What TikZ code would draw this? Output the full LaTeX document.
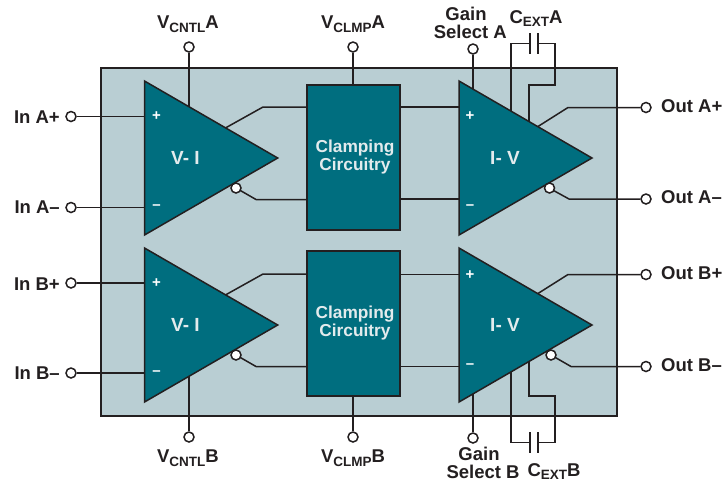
\documentclass[tikz,border=0pt]{standalone}
\usepackage{fontspec}
\setmainfont{Liberation Sans}[BoldFont={Liberation Sans Bold}]
\definecolor{panelgrey}{HTML}{B9CED3}
\definecolor{ampteal}{HTML}{006E7F}
\definecolor{wireblack}{HTML}{231F20}
\newcommand{\lowsub}[1]{\raisebox{-3.5pt}{\fontsize{13.5}{14}\selectfont #1}}
\tikzset{
  wire/.style={draw=wireblack,line width=1.5pt},
  term/.style={circle,draw=wireblack,fill=white,line width=1.5pt,inner sep=0pt,minimum size=10pt},
  amp/.style={draw=wireblack,fill=ampteal,line width=1.5pt,line join=miter},
  clampbox/.style={draw=wireblack,fill=ampteal,line width=1.5pt,inner sep=0pt,minimum width=93pt,minimum height=145pt},
  clamptext/.style={text=panelgrey!40!white,align=center,inner sep=0pt,font=\fontsize{17.3}{18}\selectfont\bfseries},
  lbl/.style={text=wireblack,inner sep=0pt,font=\fontsize{18.5}{18}\selectfont\bfseries},
  amplbl/.style={text=panelgrey!40!white,inner sep=0pt,font=\fontsize{19}{19}\selectfont\bfseries},
  signlbl/.style={text=white,inner sep=0pt,font=\fontsize{15}{15}\selectfont\bfseries}
}
\begin{document}
\begin{tikzpicture}[x=1pt,y=-1pt]
\useasboundingbox (0,0) rectangle (727,483);

% package
\draw[wire,fill=panelgrey] (101,68) rectangle (617,416);

% outer terminals
\node[term] (inAp) at (71,116.5) {};
\node[term] (inAm) at (71,207.5) {};
\node[term] (inBp) at (71,283) {};
\node[term] (inBm) at (71,373) {};
\node[term] (cntlA) at (189,47) {};
\node[term] (cntlB) at (189,437) {};
\node[term] (clmpA) at (353,47) {};
\node[term] (clmpB) at (353,437) {};
\node[term] (gainA) at (473,49) {};
\node[term] (gainB) at (473,438) {};
\node[term] (outAp) at (646,107.5) {};
\node[term] (outAm) at (646,199) {};
\node[term] (outBp) at (646,274.5) {};
\node[term] (outBm) at (646,366.5) {};

% clamps
\node[clampbox] (clampA) at (353.5,157.5) {};
\node[clampbox] (clampB) at (353.5,323.5) {};
\node[clamptext] (clampTextA) at (355,157) {Clamping\\Circuitry};
\node[clamptext] (clampTextB) at (355,323.5) {Clamping\\Circuitry};

% wires, inputs and controls
\draw[wire] (inAp) -- (150,116.5);
\draw[wire] (inAm) -- (150,207.5);
\draw[wire] (inBp) -- (150,283);
\draw[wire] (inBm) -- (150,373);
\draw[wire] (cntlA) -- (189,112);
\draw[wire] (cntlB) -- (189,372);
\draw[wire] (clmpA) -- (clampA.north -| clmpA);
\draw[wire] (clmpB) -- (clampB.south -| clmpB);
\draw[wire] (gainA) -- (473,95);
\draw[wire] (gainB) -- (473,390);

% V-I to clamp
\draw[wire] (220,131) -- (263,107) -- (clampA.west |- 0,107);
\draw[wire] (236,188) -- (256,199.5) -- (clampA.west |- 0,199.5);
\draw[wire] (220,298) -- (263,274) -- (clampB.west |- 0,274);
\draw[wire] (236,355) -- (256,366.5) -- (clampB.west |- 0,366.5);

% clamp to I-V
\draw[wire] (clampA.east |- 0,107) -- (465,107);
\draw[wire] (clampA.east |- 0,199) -- (465,199);
\draw[wire] (clampB.east |- 0,274.5) -- (465,274.5);
\draw[wire] (clampB.east |- 0,366.5) -- (465,366.5);

% I-V to outputs
\draw[wire] (534,129) -- (568,107.5) -- (outAp);
\draw[wire] (549,188) -- (569,199) -- (outAm);
\draw[wire] (534,296) -- (568,274.5) -- (outBp);
\draw[wire] (551,355) -- (571,366.5) -- (outBm);

% external caps
\coordinate (capAl) at (530,43.5);
\coordinate (capAr) at (538,43.5);
\coordinate (capBl) at (530,442.7);
\coordinate (capBr) at (538,442.7);
\draw[wire] (511,115) |- (capAl);
\draw[wire] (capAr) -- (555,43.5) |- (529,85) -- (529,125);
\draw[wire] (capAl) ++(0,-10.5) -- ++(0,21);
\draw[wire] (capAr) ++(0,-10.5) -- ++(0,21);
\draw[wire] (511,368) |- (capBl);
\draw[wire] (capBr) -- (555,442.7) |- (529,396) -- (529,358);
\draw[wire] (capBl) ++(0,-10.5) -- ++(0,21);
\draw[wire] (capBr) ++(0,-10.5) -- ++(0,21);

% amplifiers
\draw[amp] (144.5,81) -- (277.7,158) -- (144.5,235) -- cycle;
\draw[amp] (459,81) -- (592,158) -- (459,235) -- cycle;
\draw[amp] (144.5,248) -- (277.7,325) -- (144.5,402) -- cycle;
\draw[amp] (459,248) -- (592,325) -- (459,402) -- cycle;
\node[amplbl] (viA) at (185.5,157.5) {V- I};
\node[amplbl] (ivA) at (505,157.5) {I- V};
\node[amplbl] (viB) at (185.5,324.5) {V- I};
\node[amplbl] (ivB) at (505,324.5) {I- V};

% signs
\node[signlbl] (signAp) at (156.5,116) {+};
\node[signlbl] (signAm) at (156.5,207) {–};
\node[signlbl] (signBp) at (156.5,283) {+};
\node[signlbl] (signBm) at (156.5,373.5) {–};
\node[signlbl] (signCp) at (470,116) {+};
\node[signlbl] (signCm) at (470,207) {–};
\node[signlbl] (signDp) at (470,275) {+};
\node[signlbl] (signDm) at (470,366) {–};

% bubbles
\node[term] (bubAa) at (236,188) {};
\node[term] (bubAb) at (549.5,188) {};
\node[term] (bubBa) at (236,355) {};
\node[term] (bubBb) at (551,355) {};

% labels
\node[lbl,anchor=east] (lblInAp) at (60,117) {In A+};
\node[lbl,anchor=east] (lblInAm) at (60,207.5) {In A–};
\node[lbl,anchor=east] (lblInBp) at (60,284) {In B+};
\node[lbl,anchor=east] (lblInBm) at (60,373.5) {In B–};
\node[lbl,anchor=west] (lblOutAp) at (661,106.5) {Out A+};
\node[lbl,anchor=west] (lblOutAm) at (661,197.5) {Out A–};
\node[lbl,anchor=west] (lblOutBp) at (661,273.5) {Out B+};
\node[lbl,anchor=west] (lblOutBm) at (661,365.5) {Out B–};
\node[lbl] (lblCntlA) at (188,24) {V\lowsub{CNTL}A};
\node[lbl] (lblClmpA) at (353,24) {V\lowsub{CLMP}A};
\node[lbl] (lblCntlB) at (188,458) {V\lowsub{CNTL}B};
\node[lbl] (lblClmpB) at (353,458) {V\lowsub{CLMP}B};
\node[lbl] (lblExtA) at (536,18.5) {C\lowsub{EXT}A};
\node[lbl] (lblExtB) at (554,471.5) {C\lowsub{EXT}B};
\node[lbl] (lblGainA) at (466,13.5) {Gain};
\node[lbl,anchor=east] (lblSelA) at (507,31.5) {Select A};
\node[lbl] (lblGainB) at (479,453.5) {Gain};
\node[lbl] (lblSelB) at (483,471.5) {Select B};
\end{tikzpicture}
\end{document}
